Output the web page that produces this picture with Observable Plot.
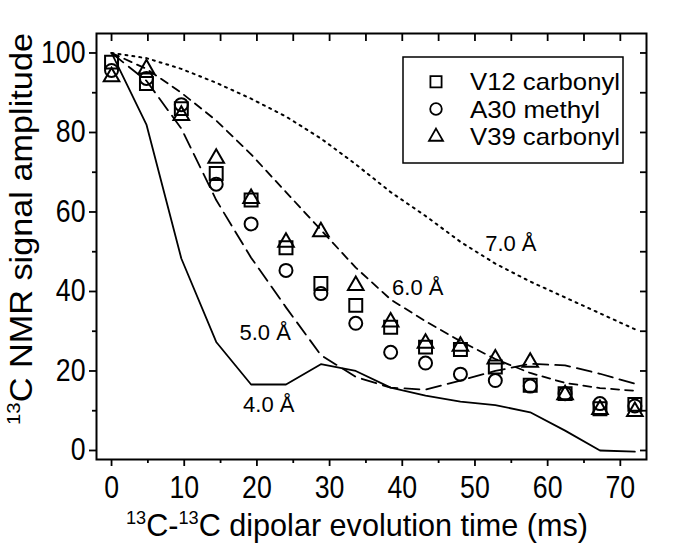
<!DOCTYPE html>
<html><head><meta charset="utf-8">
<script src="https://cdn.jsdelivr.net/npm/d3@7"></script>
<script src="https://cdn.jsdelivr.net/npm/@observablehq/plot@0.6"></script>
<style>
body{margin:0;background:#fff}
svg{font-family:"Liberation Sans",Arial,Helvetica,sans-serif}
</style>
</head><body><div id="chart"></div>
<script>
// evolution times (ms)
const times = [0,4.8,9.6,14.4,19.2,24,28.8,33.6,38.4,43.2,48,52.8,57.6,62.4,67.2,72];
// measured amplitudes
const v12Carbonyl = [97.7,92.3,86,69.7,63,51,42,36.5,31,26,25.4,21,16.4,14.3,10.5,11.6];
const a30Methyl   = [95.6,93.6,87,67,57,45.3,39.5,32,24.7,22,19.2,17.6,16.2,14.3,11.8,11.2];
const v39Carbonyl = [94,96,84.3,73.5,63.4,52.4,55,41.5,32.3,27,26.2,23,22.2,14,10.3,9.8];
// simulated curves
const sim40 = [100,82,48.3,27.3,16.6,16.6,21.7,20,15.8,13.8,12.3,11.4,9.6,5,0,-0.3];
const sim50 = [100,93,81,63,48.5,36,24,18.5,15.8,15.3,17.6,20,21.8,21.4,19.3,16.8];
const sim60 = [100,96,90,83,74.5,65,55.5,46,38,32.5,27.5,23,19.5,17,15.7,15];
const sim70 = [100,98.7,96,92.5,88.5,84,78.5,72,65,59,52.5,47,42.5,38.5,34.5,30.5];
// curve labels
const curveLabels = ["7.0 Å","6.0 Å","5.0 Å","4.0 Å"];
const curveLabelX = [51.4,38.6,17.6,18.1];
const curveLabelY = [50.3,39,27.9,9.8];
// legend
const seriesNames = ["V12 carbonyl","A30 methyl","V39 carbonyl"];
const seriesSymbols = ["square","circle","triangle"];
const xTicks = [0,10,20,30,40,50,60,70];
const yTicks = [0,20,40,60,80,100];

const font = '"Liberation Sans",Arial,Helvetica,sans-serif';
const line = (vals, dash, sw) => Plot.line(times, {x: d => d, y: (d,i) => vals[i], stroke: "black", strokeWidth: sw, strokeDasharray: dash});
const dots = (vals, sym, r) => Plot.dot(times, {x: d => d, y: (d,i) => vals[i], symbol: sym, r, stroke: "black", strokeWidth: 2, fill: "none"});

const plot = Plot.plot({
  width: 683, height: 544,
  marginLeft: 96, marginRight: 37, marginTop: 33, marginBottom: 85,
  x: {domain: [-2.07, 73.6]},
  y: {domain: [-2.27, 104.9]},
  style: {fontFamily: font, fontSize: "31px", color: "black", background: "white", overflow: "visible"},
  marks: [
    line(sim70, "2,5", 2),
    line(sim60, "8,6", 1.8),
    line(sim50, "15,7", 1.8),
    line(sim40, null, 1.8),
    dots(v12Carbonyl, "square", 7.3),
    dots(a30Methyl, "circle", 6.5),
    dots(v39Carbonyl, "triangle", 5.8),
    Plot.text(curveLabels, {x: (d,i) => curveLabelX[i], y: (d,i) => curveLabelY[i], text: d => d, textAnchor: "start", lineAnchor: "bottom", fontSize: 22, fill: "black"}),
    Plot.axisX({ticks: xTicks, tickSize: 7, tickPadding: 9, strokeWidth: 1.8, fontSize: 31, label: null, tickFormat: d => d}),
    Plot.axisX({ticks: d3.range(5, 71, 10), tickSize: 4, strokeWidth: 1.8, text: null, label: null}),
    Plot.axisX({anchor: "top", ticks: d3.range(0, 71, 5), tickSize: -7, strokeWidth: 1.8, text: null, label: null}),
    Plot.axisY({ticks: yTicks, tickSize: 7, tickPadding: 4, strokeWidth: 1.8, fontSize: 31, label: null, tickFormat: d => d}),
    Plot.axisY({ticks: [10,30,50,70,90], tickSize: 4, strokeWidth: 1.8, text: null, label: null}),
    Plot.axisY({anchor: "right", ticks: d3.range(0, 101, 10), tickSize: -7, strokeWidth: 1.8, text: null, label: null}),
    Plot.frame({stroke: "black", strokeWidth: 2})
  ]
});
document.getElementById("chart").appendChild(plot);

const svg = d3.select(plot);
// condense tick labels horizontally (reference font is narrow)
svg.selectAll('g[aria-label="x-axis tick label"] text, g[aria-label="y-axis tick label"] text').each(function() {
  const w = this.getComputedTextLength();
  this.setAttribute("textLength", (w * 0.86).toFixed(1));
  this.setAttribute("lengthAdjust", "spacingAndGlyphs");
});

// axis titles
const xt = svg.append("text").attr("x", 357).attr("y", 536).attr("text-anchor", "middle")
  .attr("font-size", 32).attr("fill", "black").attr("textLength", 462).attr("lengthAdjust", "spacingAndGlyphs");
xt.append("tspan").attr("font-size", 19).attr("dy", -12).text("13");
xt.append("tspan").attr("dy", 12).text("C-");
xt.append("tspan").attr("font-size", 19).attr("dy", -12).text("13");
xt.append("tspan").attr("dy", 12).text("C dipolar evolution time (ms)");

const yt = svg.append("text").attr("transform", "translate(32,229) rotate(-90)").attr("text-anchor", "middle")
  .attr("font-size", 32).attr("fill", "black").attr("textLength", 392).attr("lengthAdjust", "spacingAndGlyphs");
yt.append("tspan").attr("font-size", 19).attr("dy", -12).text("13");
yt.append("tspan").attr("dy", 12).text("C NMR signal amplitude");

// legend
const lg = svg.append("g").attr("text-anchor", "start");
lg.append("rect").attr("x", 403).attr("y", 57).attr("width", 220).attr("height", 106)
  .attr("fill", "white").attr("stroke", "black").attr("stroke-width", 1.5);
const rowY = [81.7, 109, 136.7];
const symMap = {square: d3.symbolSquare, circle: d3.symbolCircle, triangle: d3.symbolTriangle};
const symR = {square: 6.3, circle: 5.8, triangle: 5.2};
seriesNames.forEach((name, i) => {
  const s = seriesSymbols[i];
  lg.append("path").attr("transform", `translate(436,${rowY[i]})`)
    .attr("d", d3.symbol(symMap[s], Math.PI * symR[s] ** 2)())
    .attr("fill", "none").attr("stroke", "black").attr("stroke-width", 1.8);
  lg.append("text").attr("x", 470).attr("y", rowY[i] + 8.5).attr("font-size", 24).attr("fill", "black")
    .attr("text-anchor", "start").attr("textLength", 150 - (i === 1 ? 20 : 0)).attr("lengthAdjust", "spacingAndGlyphs").text(name);
});
</script>
</body></html>
